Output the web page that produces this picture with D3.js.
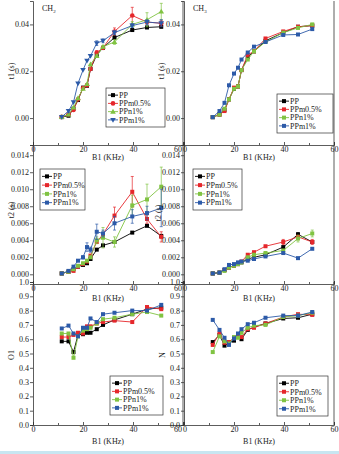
<!DOCTYPE html>
<html>
<head>
<meta charset="utf-8">
<title>t1, t2, O1, N vs B1</title>
<style>
    html, body { margin: 0; padding: 0; background: #fff; }
    svg { display: block; font-family: "Liberation Serif", "DejaVu Serif", serif; }
</style>
<script src="https://d3js.org/d3.v7.min.js"></script>
</head>
<body>
<svg id="chart" width="339" height="454"></svg>
<script>
// B1 field strength (KHz) - same points for every series
const b1 = [11.5, 14.2, 16.2, 18, 20, 21.6, 23, 25.5, 28, 32.6, 39.7, 45.6, 51.3];
const seriesNames = ["PP", "PPm0.5%", "PPn1%", "PPm1%"];

const b1Ticks = [0, 20, 40, 60];
const b1Minor = [10, 30, 50];
const t1Ticks = [0, 0.02, 0.04];
const t2Ticks = [0, 0.002, 0.004, 0.006, 0.008, 0.010, 0.012, 0.014];
const ratioTicks = [0, 0.1, 0.2, 0.3, 0.4, 0.5, 0.6, 0.7, 0.8, 0.9, 1.0];

// t1 (s), CH2
const t1Ch2 = [
    [0.0004, 0.001, 0.004, 0.0077, 0.013, 0.0138, 0.021, 0.027, 0.030, 0.0344, 0.0376, 0.0387, 0.039],
    [0.0005, 0.0015, 0.0035, 0.008, 0.0128, 0.014, 0.021, 0.028, 0.030, 0.037, 0.0438, 0.041, 0.0405],
    [0.0005, 0.0015, 0.0045, 0.0085, 0.0125, 0.0145, 0.023, 0.0265, 0.0305, 0.0325, 0.040, 0.042, 0.0455],
    [0.0005, 0.003, 0.0068, 0.0148, 0.0205, 0.0245, 0.0265, 0.032, 0.033, 0.0365, 0.0395, 0.041, 0.0405]
];
const t1Ch2Err = [
    [0, 0, 0, 0, 0, 0, 0, 0, 0, 0.0008, 0.0005, 0.0005, 0.0005],
    [0, 0, 0, 0, 0, 0, 0, 0.0008, 0.0005, 0.0015, 0.0035, 0.0008, 0.0012],
    [0, 0, 0, 0, 0, 0, 0, 0.0005, 0.0005, 0.001, 0.0012, 0.003, 0.0035],
    [0, 0.0005, 0, 0, 0, 0, 0, 0.001, 0.0008, 0.0008, 0.0008, 0.001, 0.0015]
];

// t1 (s), CH3
const t1Ch3 = [
    [0.0004, 0.0015, 0.0035, 0.008, 0.0125, 0.0135, 0.0205, 0.026, 0.0285, 0.033, 0.0365, 0.039, 0.0395],
    [0.0004, 0.0015, 0.003, 0.008, 0.013, 0.0135, 0.0205, 0.027, 0.0285, 0.034, 0.037, 0.039, 0.0395],
    [0.0004, 0.0015, 0.004, 0.008, 0.0125, 0.0135, 0.0205, 0.025, 0.0285, 0.0325, 0.0365, 0.0385, 0.040],
    [0.0004, 0.003, 0.0065, 0.014, 0.019, 0.0215, 0.025, 0.028, 0.0305, 0.0325, 0.0355, 0.0357, 0.038]
];

// t2 (s), CH2
const t2Ch2 = [
    [0.0001, 0.0003, 0.0006, 0.0009, 0.0011, 0.0013, 0.0018, 0.0029, 0.0034, 0.0038, 0.0049, 0.0057, 0.0045],
    [0.0001, 0.0003, 0.0004, 0.0009, 0.0012, 0.0015, 0.0022, 0.0038, 0.0047, 0.0069, 0.0097, 0.0065, 0.0044],
    [0.0001, 0.0003, 0.0006, 0.0010, 0.0013, 0.0016, 0.0020, 0.0040, 0.0043, 0.0038, 0.0081, 0.0088, 0.0103],
    [0.0001, 0.0004, 0.0009, 0.0016, 0.0020, 0.0032, 0.0029, 0.0050, 0.0048, 0.0060, 0.0068, 0.0072, 0.0078]
];
const t2Ch2Err = [
    [0, 0, 0, 0, 0, 0, 0, 0, 0, 0, 0, 0, 0.0002],
    [0, 0, 0, 0, 0, 0, 0, 0, 0, 0.001, 0.0018, 0.0005, 0.0006],
    [0, 0, 0, 0, 0, 0, 0, 0.0004, 0.0012, 0.0006, 0.0012, 0.0018, 0.0023],
    [0, 0, 0, 0, 0.0002, 0.0005, 0.0003, 0.0009, 0.0004, 0.0008, 0.0008, 0.0008, 0.0022]
];

// t2 (s), CH3
const t2Ch3 = [
    [0.0001, 0.0002, 0.0005, 0.0008, 0.0010, 0.0012, 0.0014, 0.0018, 0.0020, 0.0023, 0.0032, 0.0047, 0.0038],
    [0.0001, 0.0002, 0.0005, 0.0008, 0.0010, 0.0012, 0.0015, 0.0023, 0.0026, 0.0033, 0.0038, 0.0044, 0.0038],
    [0.0001, 0.0002, 0.0004, 0.0008, 0.0010, 0.0012, 0.0014, 0.0020, 0.0023, 0.0025, 0.0028, 0.0042, 0.0048],
    [0.0001, 0.0002, 0.0006, 0.0011, 0.0012, 0.0014, 0.0015, 0.0016, 0.0018, 0.0021, 0.0025, 0.0019, 0.0030]
];
const t2Ch3Err = [
    [0, 0, 0, 0, 0, 0, 0, 0, 0, 0, 0, 0.0002, 0],
    [0, 0, 0, 0, 0, 0, 0, 0, 0, 0, 0.0003, 0, 0.0003],
    [0, 0, 0, 0, 0, 0, 0, 0, 0, 0, 0, 0.0004, 0.0004],
    [0, 0, 0, 0, 0, 0, 0, 0, 0, 0, 0, 0, 0]
];

// O1
const o1 = [
    [0.585, 0.585, 0.51, 0.63, 0.635, 0.645, 0.645, 0.67, 0.70, 0.735, 0.775, 0.81, 0.82],
    [0.615, 0.615, 0.63, 0.645, 0.64, 0.69, 0.69, 0.71, 0.72, 0.73, 0.72, 0.825, 0.81],
    [0.64, 0.64, 0.47, 0.62, 0.66, 0.67, 0.68, 0.71, 0.74, 0.75, 0.775, 0.79, 0.765],
    [0.675, 0.695, 0.64, 0.62, 0.68, 0.68, 0.745, 0.72, 0.775, 0.785, 0.80, 0.80, 0.84]
];

// N
const nVal = [
    [0.58, 0.63, 0.555, 0.575, 0.59, 0.63, 0.60, 0.665, 0.685, 0.71, 0.745, 0.75, 0.775],
    [0.56, 0.64, 0.575, 0.58, 0.61, 0.62, 0.615, 0.67, 0.68, 0.71, 0.755, 0.775, 0.77],
    [0.51, 0.62, 0.585, 0.57, 0.615, 0.61, 0.645, 0.68, 0.695, 0.70, 0.755, 0.765, 0.785],
    [0.735, 0.665, 0.61, 0.56, 0.605, 0.64, 0.67, 0.705, 0.715, 0.75, 0.765, 0.765, 0.79]
];

const colors = ["#000000", "#e5272b", "#80c342", "#2c5aa8"];
const fontSize = 8;

const svg = d3.select("#chart");

// light band at the very bottom
svg.append("rect").attr("x", 0).attr("y", 451).attr("width", 339).attr("height", 3).attr("fill", "#c8e6f1");

const cols = [[33, 183], [184, 334]];
const rows = [
    { range: [145, 1], domain: [-0.0115, 0.05], ticks: t1Ticks, fmt: ".2f", xLab: 12 },
    { range: [284, 145], domain: [-0.00114, 0.0152], ticks: t2Ticks, fmt: ".3f", xLab: 14 },
    { range: [425, 282], domain: [0, 1.0], ticks: ratioTicks, fmt: ".1f", xLab: 16 }
];

const panels = [
    { r: 0, c: 0, data: t1Ch2, err: t1Ch2Err, ylabel: "t1 (s)", labX: 11, labY: 71, shapes: true,
      legend: [106, 88, 59, 39], tag: ["CH", "2"] },
    { r: 0, c: 1, data: t1Ch3, err: null, ylabel: "t1 (s)", labX: 161, labY: 71,
      legend: [277, 94, 56, 39], tag: ["CH", "3"] },
    { r: 1, c: 0, data: t2Ch2, err: t2Ch2Err, ylabel: "t2 (s)", labX: 11, labY: 210,
      legend: [40, 169, 45, 41] },
    { r: 1, c: 1, data: t2Ch3, err: t2Ch3Err, ylabel: "t2 (s)", labX: 158, labY: 213,
      legend: [193, 169, 49, 41] },
    { r: 2, c: 0, data: o1, err: null, ylabel: "O1", labX: 11, labY: 355,
      legend: [110, 376, 53, 39] },
    { r: 2, c: 1, data: nVal, err: null, ylabel: "N", labX: 162, labY: 355,
      legend: [277, 376, 51, 40] }
];

function marker(g, shape, color, cx, cy) {
    if (shape === "circle") {
        g.append("circle").attr("cx", cx).attr("cy", cy).attr("r", 2.3).attr("fill", color);
    } else if (shape === "up") {
        g.append("path").attr("d", `M${cx},${cy - 2.8}L${cx + 2.8},${cy + 2}L${cx - 2.8},${cy + 2}Z`).attr("fill", color);
    } else if (shape === "down") {
        g.append("path").attr("d", `M${cx},${cy + 2.8}L${cx + 2.8},${cy - 2}L${cx - 2.8},${cy - 2}Z`).attr("fill", color);
    } else {
        g.append("rect").attr("x", cx - 2).attr("y", cy - 2).attr("width", 4).attr("height", 4).attr("fill", color);
    }
}

panels.forEach(p => {
    const row = rows[p.r];
    const col = cols[p.c];
    const x = d3.scaleLinear().domain([0, 60]).range(col);
    const y = d3.scaleLinear().domain(row.domain).range(row.range);
    const g = svg.append("g");
    const shapes = p.shapes ? ["square", "circle", "up", "down"] : ["square", "square", "square", "square"];

    // right frame
    g.append("line").attr("x1", col[1]).attr("x2", col[1]).attr("y1", row.range[1]).attr("y2", row.range[0])
        .attr("stroke", "#333").attr("stroke-width", 0.8);

    // y axis
    const ya = g.append("g").attr("transform", `translate(${col[0]},0)`)
        .call(d3.axisLeft(y).tickValues(row.ticks).tickFormat(d3.format(row.fmt)).tickSizeOuter(0).tickSize(3).tickPadding(1));
    // x axis
    const xa = g.append("g").attr("transform", `translate(0,${row.range[0]})`)
        .call(d3.axisBottom(x).tickValues(b1Ticks).tickSizeOuter(0).tickSize(-3).tickPadding(1.5));
    g.append("g").attr("transform", `translate(0,${row.range[0]})`)
        .call(d3.axisBottom(x).tickValues(b1Minor).tickFormat("").tickSizeOuter(0).tickSize(-2))
        .select(".domain").remove();
    [ya, xa].forEach(a => {
        a.selectAll("text").attr("font-size", fontSize).attr("font-family", "Liberation Serif").attr("fill", "#222");
        a.selectAll("path,line").attr("stroke", "#333").attr("stroke-width", 0.8);
    });
    g.selectAll("line").attr("stroke", "#333").attr("stroke-width", 0.8);

    // "60" of the left panel and "0" of the right panel sit side by side, as in the source
    xa.selectAll(".tick text")
        .filter(d => (p.c === 0 && d === 60) || (p.c === 1 && d === 0))
        .attr("text-anchor", p.c === 0 ? "end" : "start")
        .attr("x", p.c === 0 ? -1.5 : -1.5);

    // axis titles
    g.append("text").attr("x", (col[0] + col[1]) / 2).attr("y", row.range[0] + row.xLab + 3)
        .attr("text-anchor", "middle").attr("font-size", fontSize).attr("fill", "#222").text("B1 (KHz)");
    g.append("text").attr("transform", `translate(${p.labX},${p.labY}) rotate(-90)`)
        .attr("text-anchor", "middle").attr("dy", "0.35em").attr("font-size", fontSize).attr("fill", "#222").text(p.ylabel);

    if (p.tag) {
        const t = g.append("text").attr("x", col[0] + 9).attr("y", 11).attr("font-size", fontSize).attr("fill", "#222");
        t.append("tspan").text(p.tag[0]);
        t.append("tspan").attr("font-size", 5).attr("dy", 1.5).text(p.tag[1]);
    }

    // series
    p.data.forEach((vals, i) => {
        const pts = b1.map((b, k) => ({ b: b, v: vals[k], e: p.err ? p.err[i][k] : 0 }));
        const sg = g.append("g");
        sg.selectAll(".eb").data(pts.filter(d => d.e > 0)).enter().append("path")
            .attr("d", d => {
                const cx = x(d.b), y1 = y(d.v + d.e), y2 = y(d.v - d.e);
                return `M${cx},${y1}V${y2}M${cx - 1.5},${y1}H${cx + 1.5}M${cx - 1.5},${y2}H${cx + 1.5}`;
            })
            .attr("stroke", colors[i]).attr("stroke-width", 0.7).attr("fill", "none");
        sg.append("path").datum(pts)
            .attr("d", d3.line().x(d => x(d.b)).y(d => y(d.v)))
            .attr("fill", "none").attr("stroke", colors[i]).attr("stroke-width", 0.9);
        pts.forEach(d => marker(sg, shapes[i], colors[i], x(d.b), y(d.v)));
    });

    // legend
    const [lx, ly, lw, lh] = p.legend;
    const lg = g.append("g");
    lg.append("rect").attr("x", lx).attr("y", ly).attr("width", lw).attr("height", lh)
        .attr("fill", "#fff").attr("stroke", "#333").attr("stroke-width", 0.7);
    const step = (lh - 6) / 4;
    seriesNames.forEach((name, i) => {
        const cy = ly + 3 + step * (i + 0.5);
        lg.append("line").attr("x1", lx + 2).attr("x2", lx + 12).attr("y1", cy).attr("y2", cy)
            .attr("stroke", colors[i]).attr("stroke-width", 0.9);
        marker(lg, shapes[i], colors[i], lx + 7, cy);
        lg.append("text").attr("x", lx + 13).attr("y", cy).attr("dy", "0.35em")
            .attr("font-size", fontSize).attr("fill", "#222").text(name);
    });
});
</script>
</body>
</html>
